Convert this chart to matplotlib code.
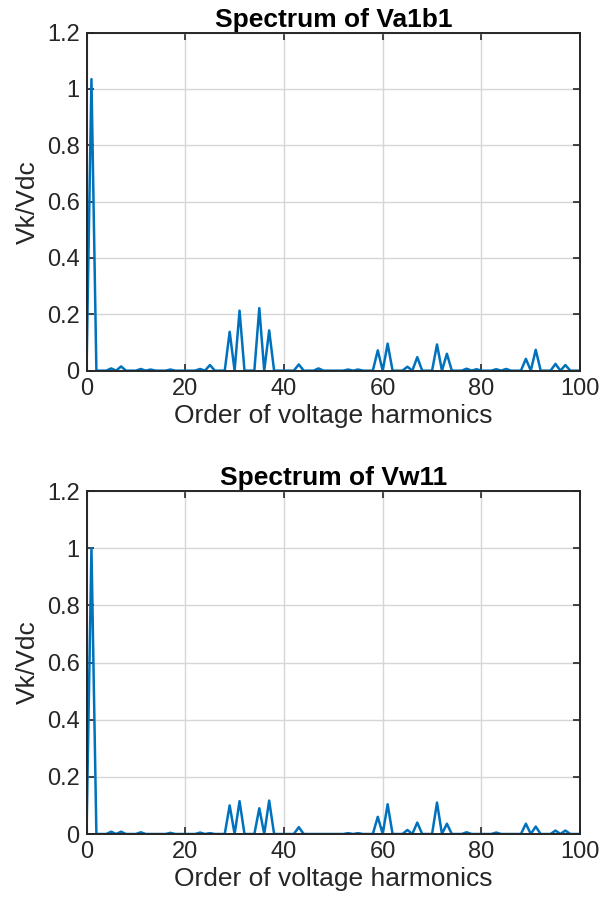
import matplotlib
matplotlib.use("Agg")
import matplotlib.pyplot as plt
import numpy as np

plt.rcParams["font.family"] = ["Liberation Sans", "DejaVu Sans"]

# harmonic orders and normalised amplitudes (Vk/Vdc)
k_a1b1 = [1, 5, 7, 11, 13, 17, 23, 25, 29, 31, 35, 37, 43, 47, 53, 55,
          59, 61, 65, 67, 71, 73, 77, 79, 83, 85, 89, 91, 95, 97]
v_a1b1 = [1.035, 0.008, 0.015, 0.006, 0.004, 0.004, 0.006, 0.02, 0.138, 0.213,
          0.222, 0.143, 0.022, 0.008, 0.004, 0.004, 0.072, 0.096, 0.014, 0.048,
          0.093, 0.06, 0.007, 0.005, 0.005, 0.006, 0.042, 0.074, 0.024, 0.02]

k_w11 = [1, 5, 7, 11, 17, 23, 25, 29, 31, 35, 37, 43, 53, 55,
         59, 61, 65, 67, 71, 73, 77, 83, 89, 91, 95, 97]
v_w11 = [1.0, 0.008, 0.008, 0.006, 0.004, 0.005, 0.003, 0.10, 0.115, 0.09,
         0.117, 0.024, 0.003, 0.003, 0.06, 0.104, 0.014, 0.04, 0.11, 0.036,
         0.006, 0.005, 0.036, 0.026, 0.012, 0.012]

n_max = 100
x_ticks = [0, 20, 40, 60, 80, 100]
y_ticks = [0, 0.2, 0.4, 0.6, 0.8, 1.0, 1.2]

dark = "#262626"
blue = "#0072BD"


def spectrum(orders, values):
    v = np.zeros(n_max + 1)
    v[orders] = values
    return v


fig = plt.figure(figsize=(6.14, 8.99), dpi=100)
ax1 = fig.add_axes([0.1409, 0.5877, 0.804, 0.376])
ax2 = fig.add_axes([0.1409, 0.0723, 0.804, 0.3815])

for ax, k, v, name in [(ax1, k_a1b1, v_a1b1, "Va1b1"), (ax2, k_w11, v_w11, "Vw11")]:
    ax.plot(np.arange(n_max + 1), spectrum(k, v), color=blue, lw=1.8)
    ax.set_xlim(0, 100)
    ax.set_ylim(0, 1.2)
    ax.set_xticks(x_ticks)
    ax.set_yticks(y_ticks)
    ax.set_yticklabels(["%g" % t for t in y_ticks])
    ax.grid(True, color="#d6d6d6", lw=1.0)
    ax.set_axisbelow(True)
    ax.tick_params(direction="in", top=True, right=True, length=5, width=1.2,
                   colors=dark, labelsize=17, pad=5)
    for s in ax.spines.values():
        s.set_color(dark)
        s.set_linewidth(1.4)
    ax.set_xlabel("Order of voltage harmonics", fontsize=19, color=dark, labelpad=3)
    ax.set_ylabel("Vk/Vdc", fontsize=19, color=dark, labelpad=5)
    ax.set_title("Spectrum of " + name, fontsize=19, fontweight="bold", pad=4)

fig.savefig("out.png", dpi=100)
